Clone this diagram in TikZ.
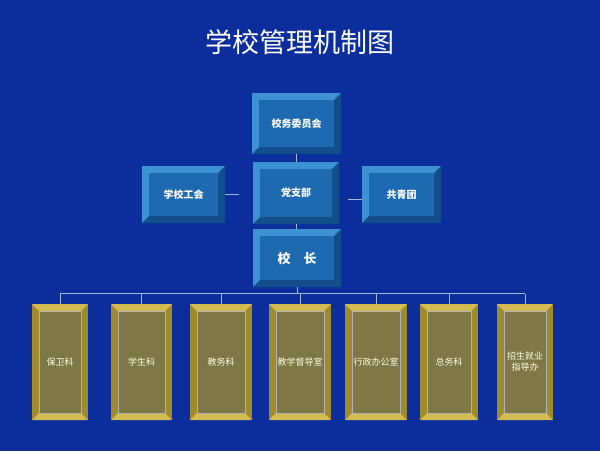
\documentclass[tikz,border=0pt]{standalone}
\usepackage{fontspec}
\newfontfamily\cjk{Noto Sans CJK SC}
\usetikzlibrary{calc}
\definecolor{bgblue}{HTML}{0B2E9C}
\definecolor{bluface}{HTML}{1E6AB0}
\definecolor{blulight}{HTML}{3C92D2}
\definecolor{bludark}{HTML}{124E8C}
\definecolor{goldface}{HTML}{7D7845}
\definecolor{goldlight}{HTML}{D2BC52}
\definecolor{golddark}{HTML}{A08A2C}
\definecolor{linkgray}{HTML}{A8B8D8}

\begin{document}
\begin{tikzpicture}[
      x=1pt, y=-1pt,
      blubox/.style={fill=bluface, inner sep=0pt, text=white, font=\cjk\bfseries\fontsize{10}{12}\selectfont},
      goldbox/.style={fill=goldface, draw=gray!60, inner sep=0pt, text=white!90!yellow, font=\cjk\fontsize{9}{11}\selectfont, align=center},
      link/.style={linkgray, line width=1pt}
    ]
    \fill[bgblue] (0,0) rectangle (600,451);
    \node[text=white, font=\cjk\fontsize{27}{32}\selectfont] (title) at (300,42) {学校管理机制图};
    % blue boxes: outer corner, then bevels
    \foreach \n/\xa/\ya/\xb/\yb/\t in {wyh/252/93/341/154/校务委员会, gh/142/166/225/223/学校工会,
        dzb/253/162/339/224/党支部, gqt/362/166/441/223/共青团, xz/253/229/341/287/{\fontsize{13}{15}\selectfont 校\quad 长}} {
      \fill[blulight] (\xa,\ya) rectangle (\xb,\yb);
      \fill[bludark] (\xb,\ya) -- (\xb,\yb) -- (\xa,\yb) -- (\xa+7,\yb-7) -- (\xb-7,\yb-7) -- (\xb-7,\ya+7) -- cycle;
      \node[blubox, minimum width=\xb-\xa-14, minimum height=\yb-\ya-14] (\n) at ({(\xa+\xb)/2},{(\ya+\yb)/2}) {\t};
    }
    % gold boxes
    \foreach \n/\xa/\xb/\t in {bwk/32/88/保卫科, xsk/111/172/学生科, jwk/190/252/教务科,
        ddz/269/331/教学督导室, xzb/345/407/行政办公室, zwk/420/478/总务科, zsb/497/553/{招生就业\\指导办}} {
      \fill[golddark] (\xa,304) rectangle (\xb,420);
      \fill[goldlight] (\xa,304) -- (\xb,304) -- (\xb-7,311) -- (\xa+7,311) -- cycle;
      \fill[goldlight] (\xa,420) -- (\xb,420) -- (\xb-7,413) -- (\xa+7,413) -- cycle;
      \node[goldbox, minimum width=\xb-\xa-14, minimum height=102] (\n) at ({(\xa+\xb)/2},362) {\t};
    }
    \coordinate (bus) at (297,294);
    \draw[link] ($(dzb.north)+(0,-7)$) -- ++(0,-8);
    \draw[link] ($(dzb.south)+(0,7)$) -- ++(0,5);
    \draw[link] ($(gh.east)+(7,0)$) -- ($(gh.east)+(21,0)$);
    \draw[link] ($(gqt.west)+(-7,5)$) -- ($(gqt.west)+(-21,5)$);
    \draw[link] ($(xz.south)+(0,7)$) -- (bus);
    \draw[link] ($(bwk.north)+(0,-17)$) -- ($(zsb.north)+(0,-17)$);
    \foreach \n in {bwk, xsk, jwk, ddz, xzb, zwk, zsb}
      \draw[link] ($(\n.north)+(0,-17)$) -- ($(\n.north)+(0,-7)$);
\end{tikzpicture}
\end{document}
